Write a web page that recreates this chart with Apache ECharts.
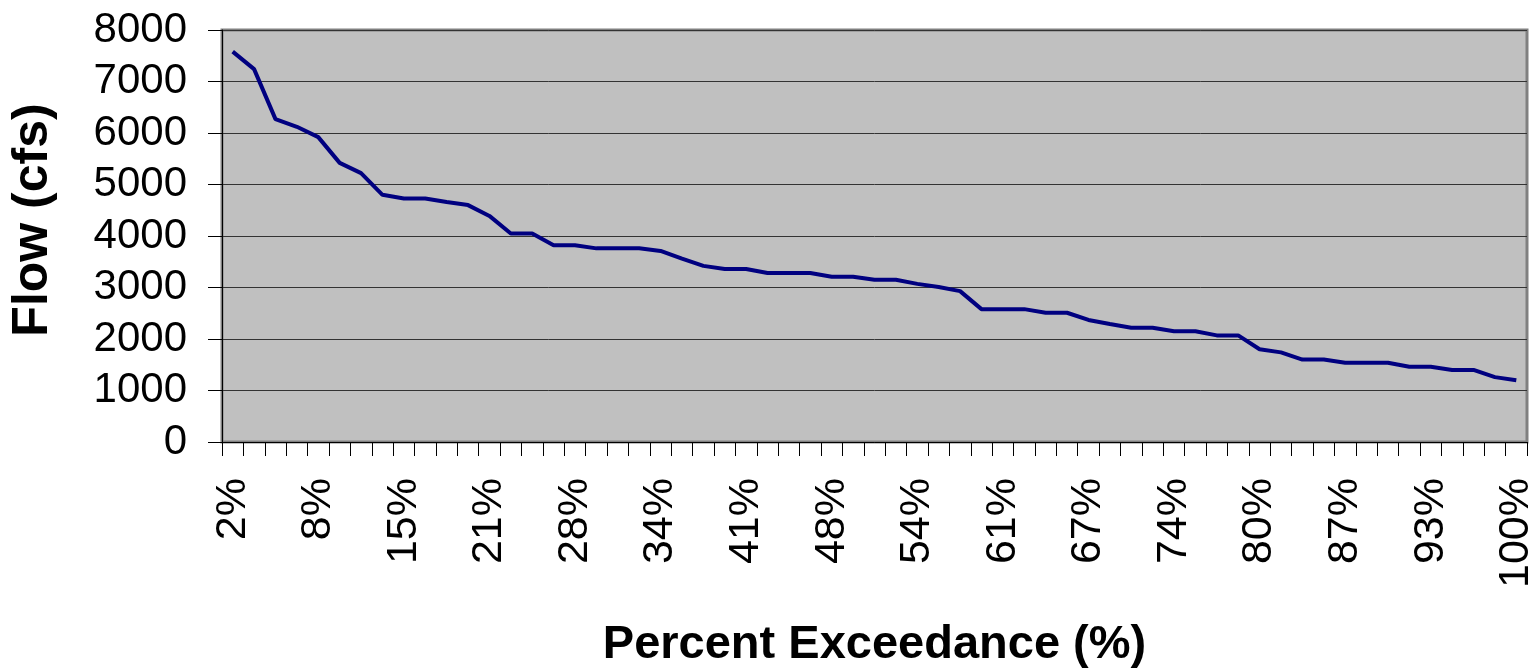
<!DOCTYPE html>
<html>
<head>
<meta charset="utf-8">
<script src="https://cdn.jsdelivr.net/npm/echarts@6/dist/echarts.min.js"></script>
<style>
  html, body { margin: 0; padding: 0; background: #fff; }
  #chart { width: 1536px; height: 670px; }
</style>
</head>
<body>
<div id="chart"></div>
<script>
// percent exceedance categories (61 ranked flows)
var categories = ['2%','3%','5%','7%','8%','10%','11%','13%','15%','16%','18%','20%','21%','23%','25%','26%',
  '28%','30%','31%','33%','34%','36%','38%','39%','41%','43%','44%','46%','48%','49%','51%','52%',
  '54%','56%','57%','59%','61%','62%','64%','66%','67%','69%','70%','72%','74%','75%','77%','79%',
  '80%','82%','84%','85%','87%','89%','90%','92%','93%','95%','97%','98%','100%'];

// flow in cfs
var flow = [7580, 7240, 6270, 6120, 5920, 5420, 5220, 4800, 4730, 4730, 4660, 4600, 4390, 4050, 4050, 3820,
  3820, 3760, 3760, 3760, 3710, 3560, 3420, 3360, 3360, 3280, 3280, 3280, 3210, 3210, 3150, 3150,
  3070, 3010, 2930, 2580, 2580, 2580, 2510, 2510, 2370, 2290, 2220, 2220, 2150, 2150, 2070, 2070,
  1800, 1740, 1600, 1600, 1540, 1540, 1540, 1460, 1460, 1400, 1400, 1260, 1200];

var yMin = 0, yMax = 8000, yStep = 1000;

var chart = echarts.init(document.getElementById('chart'));

var option = {
  animation: false,
  textStyle: { fontFamily: 'Liberation Sans, Arial, sans-serif' },
  grid: {
    left: 222,
    right: 9,
    top: 30,
    bottom: 228,
    outerBoundsMode: 'none',
    containLabel: false,
    show: true,
    backgroundColor: '#C0C0C0',
    borderColor: '#808080',
    borderWidth: 3
  },
  xAxis: {
    type: 'category',
    data: categories,
    boundaryGap: true,
    name: 'Percent Exceedance (%)',
    nameLocation: 'middle',
    nameGap: 180,
    nameTextStyle: { fontSize: 47, fontWeight: 'bold', color: '#000' },
    axisLine: { lineStyle: { color: '#000', width: 1 } },
    axisTick: { show: true, interval: 0, length: 14, lineStyle: { color: '#000' } },
    axisLabel: {
      interval: 3,
      rotate: 90,
      margin: 36,
      fontSize: 43,
      color: '#000'
    },
    splitLine: { show: false }
  },
  yAxis: {
    type: 'value',
    min: yMin,
    max: yMax,
    interval: yStep,
    name: 'Flow (cfs)',
    nameLocation: 'middle',
    nameGap: 164,
    nameTextStyle: { fontSize: 50, fontWeight: 'bold', color: '#000', padding: [0, 0, 0, 32] },
    axisLine: { show: true, lineStyle: { color: '#000', width: 1 } },
    axisTick: { show: true, length: 14, lineStyle: { color: '#000' } },
    axisLabel: {
      margin: 35,
      fontSize: 42,
      color: '#000',
      formatter: function (v) { return String(v); }
    },
    splitLine: { show: true, lineStyle: { color: '#333', width: 1 } }
  },
  series: [
    {
      name: 'Flow',
      type: 'line',
      data: flow,
      showSymbol: false,
      symbol: 'none',
      lineStyle: { color: '#000080', width: 4 },
      itemStyle: { color: '#000080' }
    }
  ]
};

chart.setOption(option);
</script>
</body>
</html>
